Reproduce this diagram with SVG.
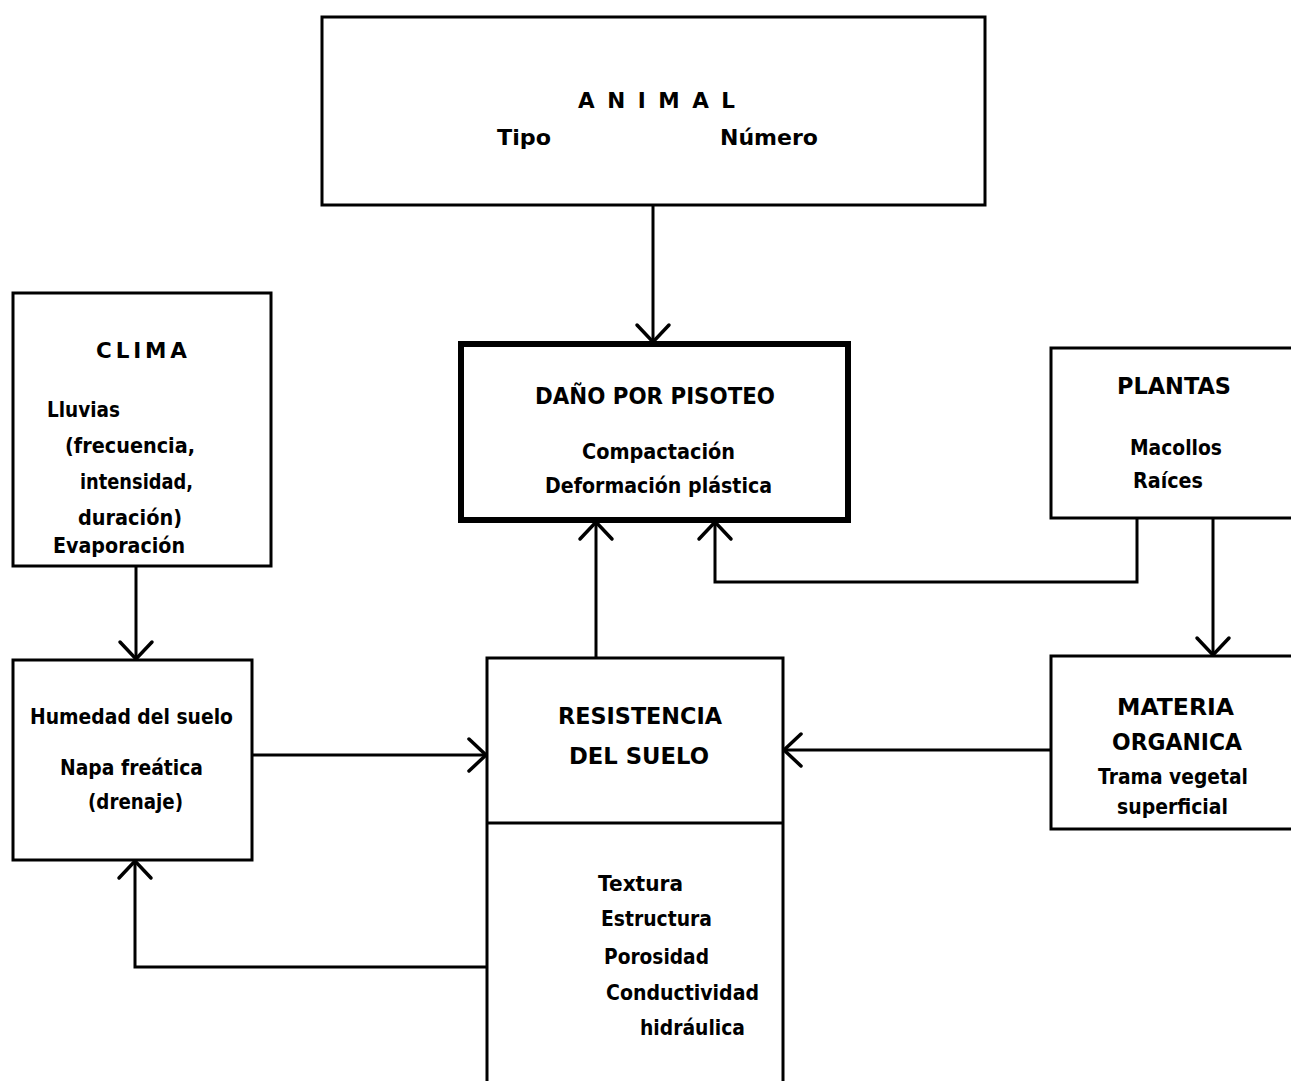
<svg xmlns="http://www.w3.org/2000/svg" width="1291" height="1081" viewBox="0 0 1291 1081">
<style>
.box{fill:#fff;stroke:#000;stroke-width:3}
.thick{fill:#fff;stroke:#000;stroke-width:6}
.t{font-family:"DejaVu Sans","Liberation Sans",Arial,sans-serif;font-weight:bold;font-size:21px;fill:#000}
.h{font-size:23px}
.m{font-size:22px}
.conn{fill:none;stroke:#000;stroke-width:3}
</style>
<defs>
<marker id="ar" markerUnits="userSpaceOnUse" markerWidth="40" markerHeight="40" viewBox="-22 -20 26 40" refX="0" refY="0" orient="auto">
<path d="M-17,-16 L0,0 L-17,16" fill="none" stroke="#000" stroke-width="3.5" stroke-linecap="round"/>
</marker>
</defs>
<rect width="1291" height="1081" fill="#fff"/>
<g id="connectors">
<path class="conn" d="M653,206 L653,342" marker-end="url(#ar)"/>
<path class="conn" d="M136,567 L136,659" marker-end="url(#ar)"/>
<path class="conn" d="M253,755 L486,755" marker-end="url(#ar)"/>
<path class="conn" d="M487,967 L135,967 L135,861" marker-end="url(#ar)"/>
<path class="conn" d="M596,658 L596,522" marker-end="url(#ar)"/>
<path class="conn" d="M1137,519 L1137,582 L715,582 L715,522" marker-end="url(#ar)"/>
<path class="conn" d="M1213,519 L1213,655" marker-end="url(#ar)"/>
<path class="conn" d="M1051,750 L784,750" marker-end="url(#ar)"/>
</g>
<g id="animal">
<rect class="box" x="322" y="17" width="663" height="188"/>
<text class="t" style="font-size:21.5px" x="578" y="108" textLength="157">ANIMAL</text>
<text class="t m" x="497" y="145" textLength="54" lengthAdjust="spacingAndGlyphs">Tipo</text>
<text class="t m" x="720" y="145" textLength="98" lengthAdjust="spacingAndGlyphs">Número</text>
</g>
<g id="dano">
<rect class="thick" x="461" y="344" width="387" height="176"/>
<text class="t h" x="535" y="404" textLength="240" lengthAdjust="spacingAndGlyphs">DAÑO POR PISOTEO</text>
<text class="t" x="582" y="459" textLength="153" lengthAdjust="spacingAndGlyphs">Compactación</text>
<text class="t" x="545" y="493" textLength="227" lengthAdjust="spacingAndGlyphs">Deformación plástica</text>
</g>
<g id="clima">
<rect class="box" x="13" y="293" width="258" height="273"/>
<text class="t" style="font-size:21.5px" x="96" y="358" textLength="91">CLIMA</text>
<text class="t" x="47" y="417" textLength="73" lengthAdjust="spacingAndGlyphs">Lluvias</text>
<text class="t" x="65" y="453" textLength="130" lengthAdjust="spacingAndGlyphs">(frecuencia,</text>
<text class="t" x="80" y="489" textLength="113" lengthAdjust="spacingAndGlyphs">intensidad,</text>
<text class="t" x="78" y="525" textLength="104" lengthAdjust="spacingAndGlyphs">duración)</text>
<text class="t" x="53" y="553" textLength="132" lengthAdjust="spacingAndGlyphs">Evaporación</text>
</g>
<g id="plantas">
<rect class="box" x="1051" y="348" width="260" height="170"/>
<text class="t h" x="1117" y="394" textLength="114" lengthAdjust="spacingAndGlyphs">PLANTAS</text>
<text class="t" x="1130" y="455" textLength="92" lengthAdjust="spacingAndGlyphs">Macollos</text>
<text class="t" x="1133" y="488" textLength="70" lengthAdjust="spacingAndGlyphs">Raíces</text>
</g>
<g id="humedad">
<rect class="box" x="13" y="660" width="239" height="200"/>
<text class="t" x="30" y="724" textLength="203" lengthAdjust="spacingAndGlyphs">Humedad del suelo</text>
<text class="t" x="60" y="775" textLength="143" lengthAdjust="spacingAndGlyphs">Napa freática</text>
<text class="t" x="88" y="809" textLength="95" lengthAdjust="spacingAndGlyphs">(drenaje)</text>
</g>
<g id="resistencia">
<rect class="box" x="487" y="658" width="296" height="440"/>
<line x1="487" y1="823" x2="783" y2="823" stroke="#000" stroke-width="3"/>
<text class="t h" x="558" y="724" textLength="164" lengthAdjust="spacingAndGlyphs">RESISTENCIA</text>
<text class="t h" x="569" y="764" textLength="140" lengthAdjust="spacingAndGlyphs">DEL SUELO</text>
<text class="t" x="598" y="891" textLength="85" lengthAdjust="spacingAndGlyphs">Textura</text>
<text class="t" x="601" y="926" textLength="111" lengthAdjust="spacingAndGlyphs">Estructura</text>
<text class="t" x="604" y="964" textLength="105" lengthAdjust="spacingAndGlyphs">Porosidad</text>
<text class="t" x="606" y="1000" textLength="153" lengthAdjust="spacingAndGlyphs">Conductividad</text>
<text class="t" x="640" y="1035" textLength="105" lengthAdjust="spacingAndGlyphs">hidráulica</text>
</g>
<g id="materia">
<rect class="box" x="1051" y="656" width="260" height="173"/>
<text class="t h" x="1117" y="715" textLength="117" lengthAdjust="spacingAndGlyphs">MATERIA</text>
<text class="t h" x="1112" y="750" textLength="130" lengthAdjust="spacingAndGlyphs">ORGANICA</text>
<text class="t" x="1098" y="784" textLength="150" lengthAdjust="spacingAndGlyphs">Trama vegetal</text>
<text class="t" x="1117" y="814" textLength="111" lengthAdjust="spacingAndGlyphs">superficial</text>
</g>
</svg>
